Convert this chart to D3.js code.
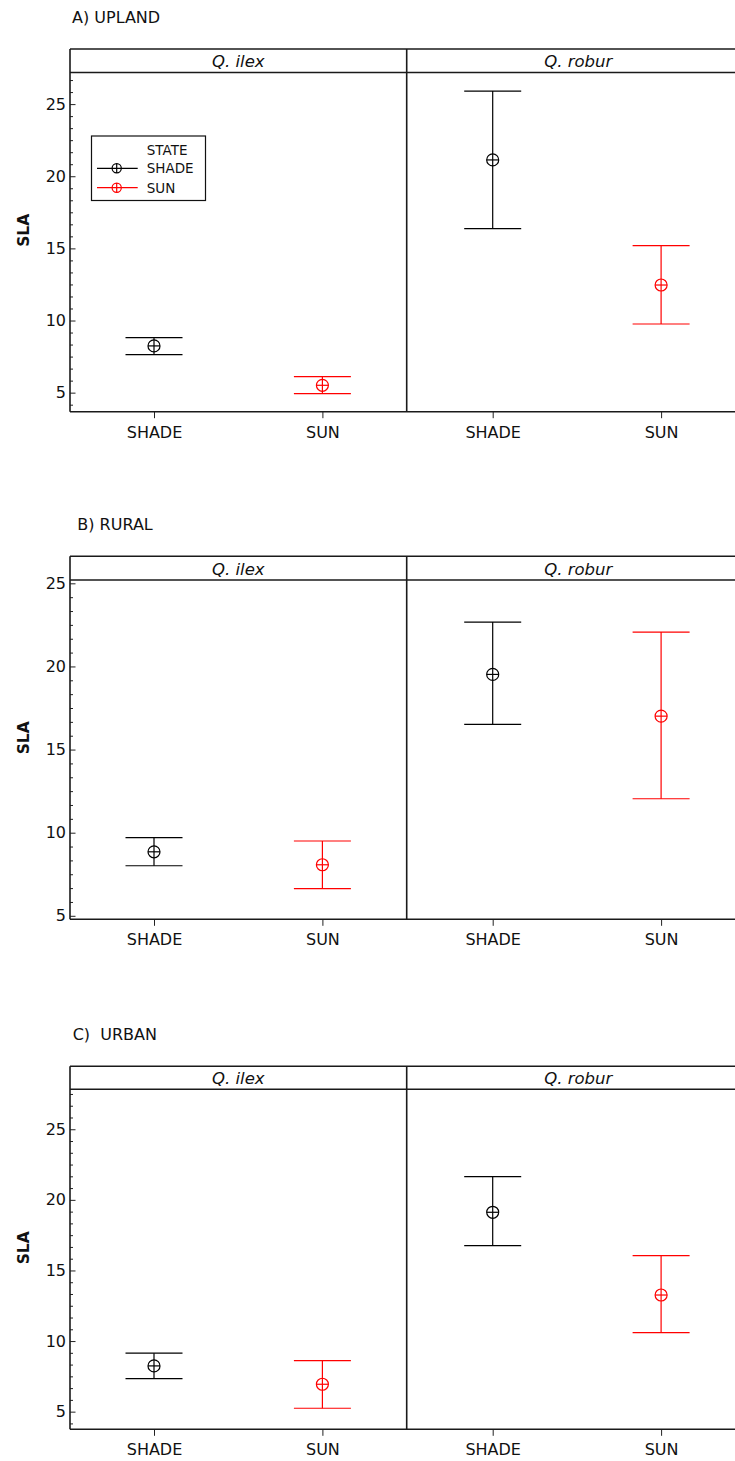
<!DOCTYPE html>
<html>
<head>
<meta charset="utf-8">
<script src="https://cdn.jsdelivr.net/npm/d3@7"></script>
<style>
  html, body { margin: 0; padding: 0; background: #fff; }
  svg { display: block; font-family: "DejaVu Sans", Verdana, sans-serif; }
</style>
</head>
<body>
<svg id="chart" width="735" height="1461"></svg>
<script>
// ---------- data ----------
const regions = ["A) UPLAND", "B) RURAL", "C)  URBAN"];
const species = ["Q. ilex", "Q. robur"];
const states = ["SHADE", "SUN"];
const stateColors = ["#000000", "#ff0000"];

// [region][species][state]
const meanSLA = [
  [[8.24, 5.51], [21.13, 12.46]],
  [[8.85, 8.07], [19.52, 17.01]],
  [[8.24, 6.94], [19.12, 13.26]]
];
const upperSLA = [
  [[8.81, 6.11], [25.9, 15.19]],
  [[9.70, 9.50], [22.67, 22.07]],
  [[9.14, 8.61], [21.64, 16.05]]
];
const lowerSLA = [
  [[7.63, 4.93], [16.37, 9.76]],
  [[8.01, 6.63], [16.52, 12.04]],
  [[7.34, 5.24], [16.76, 10.60]]
];
const yAxisMin = [3.68, 4.79, 3.75];
const yAxisMax = [27.19, 25.2, 27.83];
const majorTicks = [5, 10, 15, 20, 25];
const minorStep = 5 / 6;
const yLabel = "SLA";

// ---------- layout ----------
const frameLeft = 70, divider = 406.7, frameRight = 750;
const panels = [
  { top: 49, headBottom: 72.5, bottom: 411.7, titleX: 72, titleY: 23 },
  { top: 556.3, headBottom: 580, bottom: 919.3, titleX: 77.3, titleY: 530 },
  { top: 1066.3, headBottom: 1089.3, bottom: 1429.3, titleX: 72.7, titleY: 1040 }
];
const speciesRanges = [[frameLeft, divider], [divider, frameRight]];
const catOffsets = [[84, 252.4], [86, 254.4]];
const capHalf = 28.5, markerR = 6;

const svg = d3.select("#chart");

regions.forEach((region, ri) => {
  const P = panels[ri];
  const g = svg.append("g");

  // title
  g.append("text")
    .attr("x", P.titleX).attr("y", P.titleY)
    .attr("font-size", 16).attr("fill", "#111")
    .style("white-space", "pre")
    .text(region);

  const y = d3.scaleLinear().domain([yAxisMin[ri], yAxisMax[ri]]).range([P.bottom, P.headBottom]);

  // y label
  g.append("text")
    .attr("transform", `translate(29,${(P.top + P.bottom) / 2}) rotate(-90)`)
    .attr("text-anchor", "middle")
    .attr("font-size", 15.5).attr("font-weight", "bold").attr("fill", "#111")
    .text(yLabel);

  // minor ticks
  const minor = d3.range(Math.ceil(yAxisMin[ri] / minorStep), Math.floor(yAxisMax[ri] / minorStep) + 1)
    .map(k => k * minorStep)
    .filter(v => Math.abs(v / 5 - Math.round(v / 5)) > 1e-6);
  const minorAxis = g.append("g").attr("transform", `translate(${frameLeft},0)`)
    .call(d3.axisLeft(y).tickValues(minor).tickSize(-3).tickFormat(""));
  minorAxis.select(".domain").remove();
  minorAxis.selectAll("line").attr("stroke", "#222");

  const majorAxis = g.append("g").attr("transform", `translate(${frameLeft},0)`)
    .call(d3.axisLeft(y).tickValues(majorTicks).tickSize(-5.5).tickPadding(4));
  majorAxis.select(".domain").remove();
  majorAxis.selectAll("line").attr("stroke", "#222");
  majorAxis.selectAll("text").attr("font-size", 16).attr("fill", "#111")
    .attr("font-family", "DejaVu Sans, sans-serif");

  // species panels
  species.forEach((sp, si) => {
    const [x0, x1] = speciesRanges[si];
    const x = d3.scaleOrdinal().domain(states).range(catOffsets[si].map(o => x0 + o));

    const xa = g.append("g").attr("transform", `translate(0,${P.bottom})`)
      .call(d3.axisBottom(d3.scalePoint().domain(states).range([x(states[0]), x(states[1])]))
        .tickSize(6.5).tickPadding(8).tickSizeOuter(0));
    xa.select(".domain").remove();
    xa.selectAll("line").attr("stroke", "#222");
    xa.selectAll("text").attr("font-size", 16).attr("fill", "#111")
      .attr("font-family", "DejaVu Sans, sans-serif");

    // header label
    const hc = si === 0 ? (x0 + x1) / 2 : 578.3;
    g.append("text")
      .attr("x", hc).attr("y", P.headBottom - 5.5)
      .attr("text-anchor", "middle")
      .attr("font-size", 16.5).attr("font-style", "italic").attr("fill", "#111")
      .text(sp);

    // error bars
    states.forEach((st, ti) => {
      const cx = x(st);
      const col = stateColors[ti];
      const m = meanSLA[ri][si][ti], hi = upperSLA[ri][si][ti], lo = lowerSLA[ri][si][ti];
      const eb = g.append("g").attr("stroke", col).attr("stroke-width", 1.2).attr("fill", "none");
      eb.append("line").attr("x1", cx).attr("x2", cx).attr("y1", y(hi)).attr("y2", y(lo));
      eb.append("line").attr("x1", cx - capHalf).attr("x2", cx + capHalf).attr("y1", y(hi)).attr("y2", y(hi));
      eb.append("line").attr("x1", cx - capHalf).attr("x2", cx + capHalf).attr("y1", y(lo)).attr("y2", y(lo));
      eb.append("circle").attr("cx", cx).attr("cy", y(m)).attr("r", markerR);
      eb.append("line").attr("x1", cx - markerR).attr("x2", cx + markerR).attr("y1", y(m)).attr("y2", y(m));
    });
  });

  // frame
  const fr = g.append("g").attr("stroke", "#1a1a1a").attr("stroke-width", 1.6);
  fr.append("line").attr("x1", frameLeft).attr("x2", frameRight).attr("y1", P.top).attr("y2", P.top);
  fr.append("line").attr("x1", frameLeft).attr("x2", frameRight).attr("y1", P.headBottom).attr("y2", P.headBottom);
  fr.append("line").attr("x1", frameLeft).attr("x2", frameRight).attr("y1", P.bottom).attr("y2", P.bottom);
  fr.append("line").attr("x1", frameLeft).attr("x2", frameLeft).attr("y1", P.top).attr("y2", P.bottom);
  fr.append("line").attr("x1", divider).attr("x2", divider).attr("y1", P.top).attr("y2", P.bottom);
  fr.append("line").attr("x1", frameRight).attr("x2", frameRight).attr("y1", P.top).attr("y2", P.bottom);

  // legend (first panel only)
  if (ri === 0) {
    const lg = g.append("g");
    lg.append("rect").attr("x", 91.5).attr("y", 136).attr("width", 114).attr("height", 64.5)
      .attr("fill", "#fff").attr("stroke", "#111").attr("stroke-width", 1.2);
    lg.append("text").attr("x", 146.7).attr("y", 155).attr("font-size", 13.5).attr("fill", "#111").text("STATE");
    states.forEach((st, ti) => {
      const ly = 168.3 + ti * 19.4;
      const col = stateColors[ti];
      const it = lg.append("g").attr("stroke", col).attr("stroke-width", 1.2).attr("fill", "none");
      it.append("line").attr("x1", 97).attr("x2", 137.7).attr("y1", ly).attr("y2", ly);
      it.append("circle").attr("cx", 116.7).attr("cy", ly).attr("r", 4.6);
      it.append("line").attr("x1", 116.7).attr("x2", 116.7).attr("y1", ly - 4.6).attr("y2", ly + 4.6);
      lg.append("text").attr("x", 146.7).attr("y", ly + 5).attr("font-size", 13.5).attr("fill", "#111").text(st);
    });
  }
});
</script>
</body>
</html>
